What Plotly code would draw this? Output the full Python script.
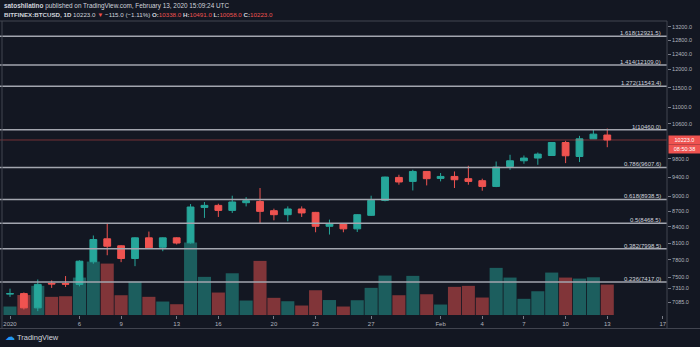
import math
import pandas as pd
import plotly.graph_objects as go

# ---------------- data ----------------
dates = pd.date_range("2020-01-01", "2020-02-13", freq="D")
opens = [7218, 7226, 6997, 7395, 7392, 7378, 7765, 8178, 8050, 7822,
         8196, 8024, 8196, 8104, 8779, 8819, 8720, 8873, 8898, 8714,
         8636, 8748, 8681, 8412, 8464, 8364, 8623, 8919, 9394, 9310, 9522,
         9373, 9415, 9367, 9325, 9205, 9629, 9754, 9814, 9871, 10165, 9849, 10250, 10338]
highs = [7307, 7245, 7460, 7445, 7518, 7790, 8239, 8464, 8060, 8205,
         8313, 8205, 8205, 8847, 8887, 8852, 9014, 8985, 9172, 8754,
         8799, 8799, 8690, 8540, 8470, 8645, 9014, 9410, 9451, 9558, 9530,
         9488, 9522, 9644, 9367, 9738, 9887, 9871, 9938, 10175, 10203, 10319, 10460, 10491]
lows = [7172, 6971, 6945, 7320, 7335, 7345, 7730, 7880, 7758, 7688,
        8005, 7952, 8074, 8090, 8573, 8592, 8670, 8799, 8458, 8527,
        8508, 8592, 8300, 8257, 8300, 8305, 8610, 8900, 9241, 9122, 9226,
        9310, 9172, 9241, 9116, 9190, 9558, 9688, 9666, 9860, 9703, 9726, 10245, 10058]
closes = [7226, 6997, 7378, 7385, 7382, 7775, 8165, 8042, 7822, 8196,
          8013, 8196, 8100, 8787, 8819, 8720, 8887, 8913, 8701, 8636,
          8748, 8670, 8412, 8464, 8364, 8636, 8919, 9402, 9298, 9522, 9367,
          9415, 9345, 9310, 9205, 9616, 9754, 9814, 9902, 10165, 9865, 10250, 10359, 10223]
volumes = [4250, 10000, 14600, 9100, 9400, 18750, 26750, 25750, 9900, 16750,
           9100, 6750, 5400, 36250, 19100, 11250, 20900, 7250, 27100, 8600,
           6900, 4750, 12400, 7500, 4250, 7400, 13600, 19750, 9900, 19600, 10400,
           5250, 14100, 14600, 8750, 23600, 18750, 8100, 11900, 21250, 18750, 18250, 18900, 15250]

fib_ratios = ["1.618", "1.414", "1.272", "1", "0.786", "0.618", "0.5", "0.382", "0.236"]
fib_values = [12921.5, 12109.0, 11543.4, 10460.0, 9607.6, 8938.5, 8468.5, 7998.5, 7417.0]

price_ticks = [7085, 7310, 7500, 7800, 8100, 8400, 8700, 9000, 9400, 9800,
               10600, 11000, 11500, 12000, 12400, 12800, 13200]
x_tick_dates = ["2020-01-01", "2020-01-06", "2020-01-09", "2020-01-13", "2020-01-16",
                "2020-01-20", "2020-01-23", "2020-01-27", "2020-02-01", "2020-02-04",
                "2020-02-07", "2020-02-10", "2020-02-13", "2020-02-17"]
x_tick_labels = ["2020", "6", "9", "13", "16", "20", "23", "27", "Feb", "4", "7", "10", "13", "17"]

last_price = 10223.0
countdown = "08:50:38"

# ---------------- style ----------------
BG = "#131722"
UP = "#26a69a"
DN = "#ef5350"
TXT = "#b2b5be"
FIB = "#a3a6af"
BORDER = "#434651"
FONT = "Liberation Sans, Arial, sans-serif"

x_range = ["2019-12-31 06:43", "2020-02-17 07:12"]
y_range = [math.log10(6885), math.log10(13375)]

fig = go.Figure()

# volume (base axis, drawn underneath)
vol_colors = ["rgba(38,166,154,0.5)" if c >= o else "rgba(239,83,80,0.5)"
              for o, c in zip(opens, closes)]
fig.add_trace(go.Bar(x=dates, y=volumes, marker=dict(color=vol_colors, line=dict(width=0)),
                     yaxis="y", hoverinfo="skip", showlegend=False))

# fib lines (price axis)
for r, v in zip(fib_ratios, fib_values):
    fig.add_trace(go.Scatter(x=x_range, y=[v, v], mode="lines", yaxis="y2",
                             line=dict(color=FIB, width=1.5), hoverinfo="skip", showlegend=False))

# last price line
fig.add_trace(go.Scatter(x=x_range, y=[last_price, last_price], mode="lines", yaxis="y2",
                         line=dict(color="rgba(239,83,80,0.45)", width=1),
                         hoverinfo="skip", showlegend=False))

# candles
fig.add_trace(go.Candlestick(
    x=dates, open=opens, high=highs, low=lows, close=closes, yaxis="y2",
    increasing=dict(line=dict(color=UP, width=1), fillcolor=UP),
    decreasing=dict(line=dict(color=DN, width=1), fillcolor=DN),
    whiskerwidth=0, hoverinfo="skip", showlegend=False))

annotations = []
for r, v in zip(fib_ratios, fib_values):
    annotations.append(dict(xref="paper", yref="y2", x=0.994, y=math.log10(v),
                            text=f"{r}({v:.1f})", showarrow=False, xanchor="right",
                            yanchor="bottom", yshift=-2,
                            font=dict(family=FONT, size=6, color="#d1d4dc")))

# price label + countdown
annotations.append(dict(xref="paper", yref="y2", x=1, y=math.log10(last_price), xanchor="left",
                        xshift=1, text=f"{last_price:.1f}", showarrow=False, bgcolor=DN,
                        width=31, height=8, borderpad=0, align="center",
                        font=dict(family=FONT, size=5.5, color="#ffffff")))
annotations.append(dict(xref="paper", yref="y2", x=1, y=math.log10(last_price), xanchor="left",
                        xshift=1, yshift=-9, text=countdown, showarrow=False, bgcolor=DN,
                        width=31, height=8, borderpad=0, align="center",
                        font=dict(family=FONT, size=5.5, color="#ffffff")))

# header
hdr_up = (f"<b>satoshilatino</b> published on TradingView.com, February 13, 2020 15:09:24 UTC")
hdr_dn = (f"<b>BITFINEX:BTCUSD, 1D</b> 10223.0 <span style='color:{DN}'>▼</span> −115.0 (−1.11%) "
          f"<b>O:</b><span style='color:{DN}'>10338.0</span> "
          f"<b>H:</b><span style='color:{DN}'>10491.0</span> "
          f"<b>L:</b><span style='color:{DN}'>10058.0</span> "
          f"<b>C:</b><span style='color:{DN}'>10223.0</span>")
annotations.append(dict(xref="paper", yref="paper", x=0.003, y=1.052, xanchor="left", yanchor="middle",
                        text=hdr_up, showarrow=False, font=dict(family=FONT, size=6.4, color="#d1d4dc")))
annotations.append(dict(xref="paper", yref="paper", x=0.003, y=1.021, xanchor="left", yanchor="middle",
                        text=hdr_dn, showarrow=False, font=dict(family=FONT, size=6.2, color="#d1d4dc")))
# footer logo
annotations.append(dict(xref="paper", yref="paper", x=0.004, y=-0.073, xanchor="left", yanchor="middle",
                        text="<span style='color:#2196f3;font-size:10px'>☁</span> TradingView", showarrow=False,
                        font=dict(family=FONT, size=7.5, color="#d1d4dc")))

shapes = [
    dict(type="line", xref="paper", yref="paper", x0=0, x1=1, y0=1, y1=1,
         line=dict(color=BORDER, width=1)),
    dict(type="line", xref="paper", yref="paper", x0=0.003, x1=0.003, y0=-0.046, y1=1,
         line=dict(color=BORDER, width=1)),
    dict(type="line", xref="paper", yref="paper", x0=0, x1=1.05, y0=-0.046, y1=-0.046,
         line=dict(color=BORDER, width=1)),
    dict(type="line", xref="paper", yref="paper", x0=1, x1=1, y0=-0.046, y1=1,
         line=dict(color=BORDER, width=1)),
]

fig.update_layout(
    width=700, height=347,
    margin=dict(l=0, r=33, t=21, b=31.5),
    paper_bgcolor=BG, plot_bgcolor=BG,
    showlegend=False, bargap=0.06,
    annotations=annotations, shapes=shapes,
    xaxis=dict(type="date", range=x_range, rangeslider=dict(visible=False),
               tickmode="array", tickvals=x_tick_dates, ticktext=x_tick_labels,
               ticks="outside", ticklen=3, tickcolor="#787b86", showgrid=False,
               showline=False, zeroline=False,
               tickfont=dict(family=FONT, size=6, color=TXT)),
    yaxis=dict(range=[0, 147250], visible=False, showgrid=False, zeroline=False),
    yaxis2=dict(type="log", range=y_range, overlaying="y", side="right",
                tickmode="array", tickvals=price_ticks,
                ticktext=[f"{t:.1f}" for t in price_ticks],
                ticks="outside", ticklen=3, tickcolor="#787b86", showgrid=False,
                showline=False, zeroline=False,
                tickfont=dict(family=FONT, size=5.5, color=TXT)),
)

fig.write_html("out.html")
